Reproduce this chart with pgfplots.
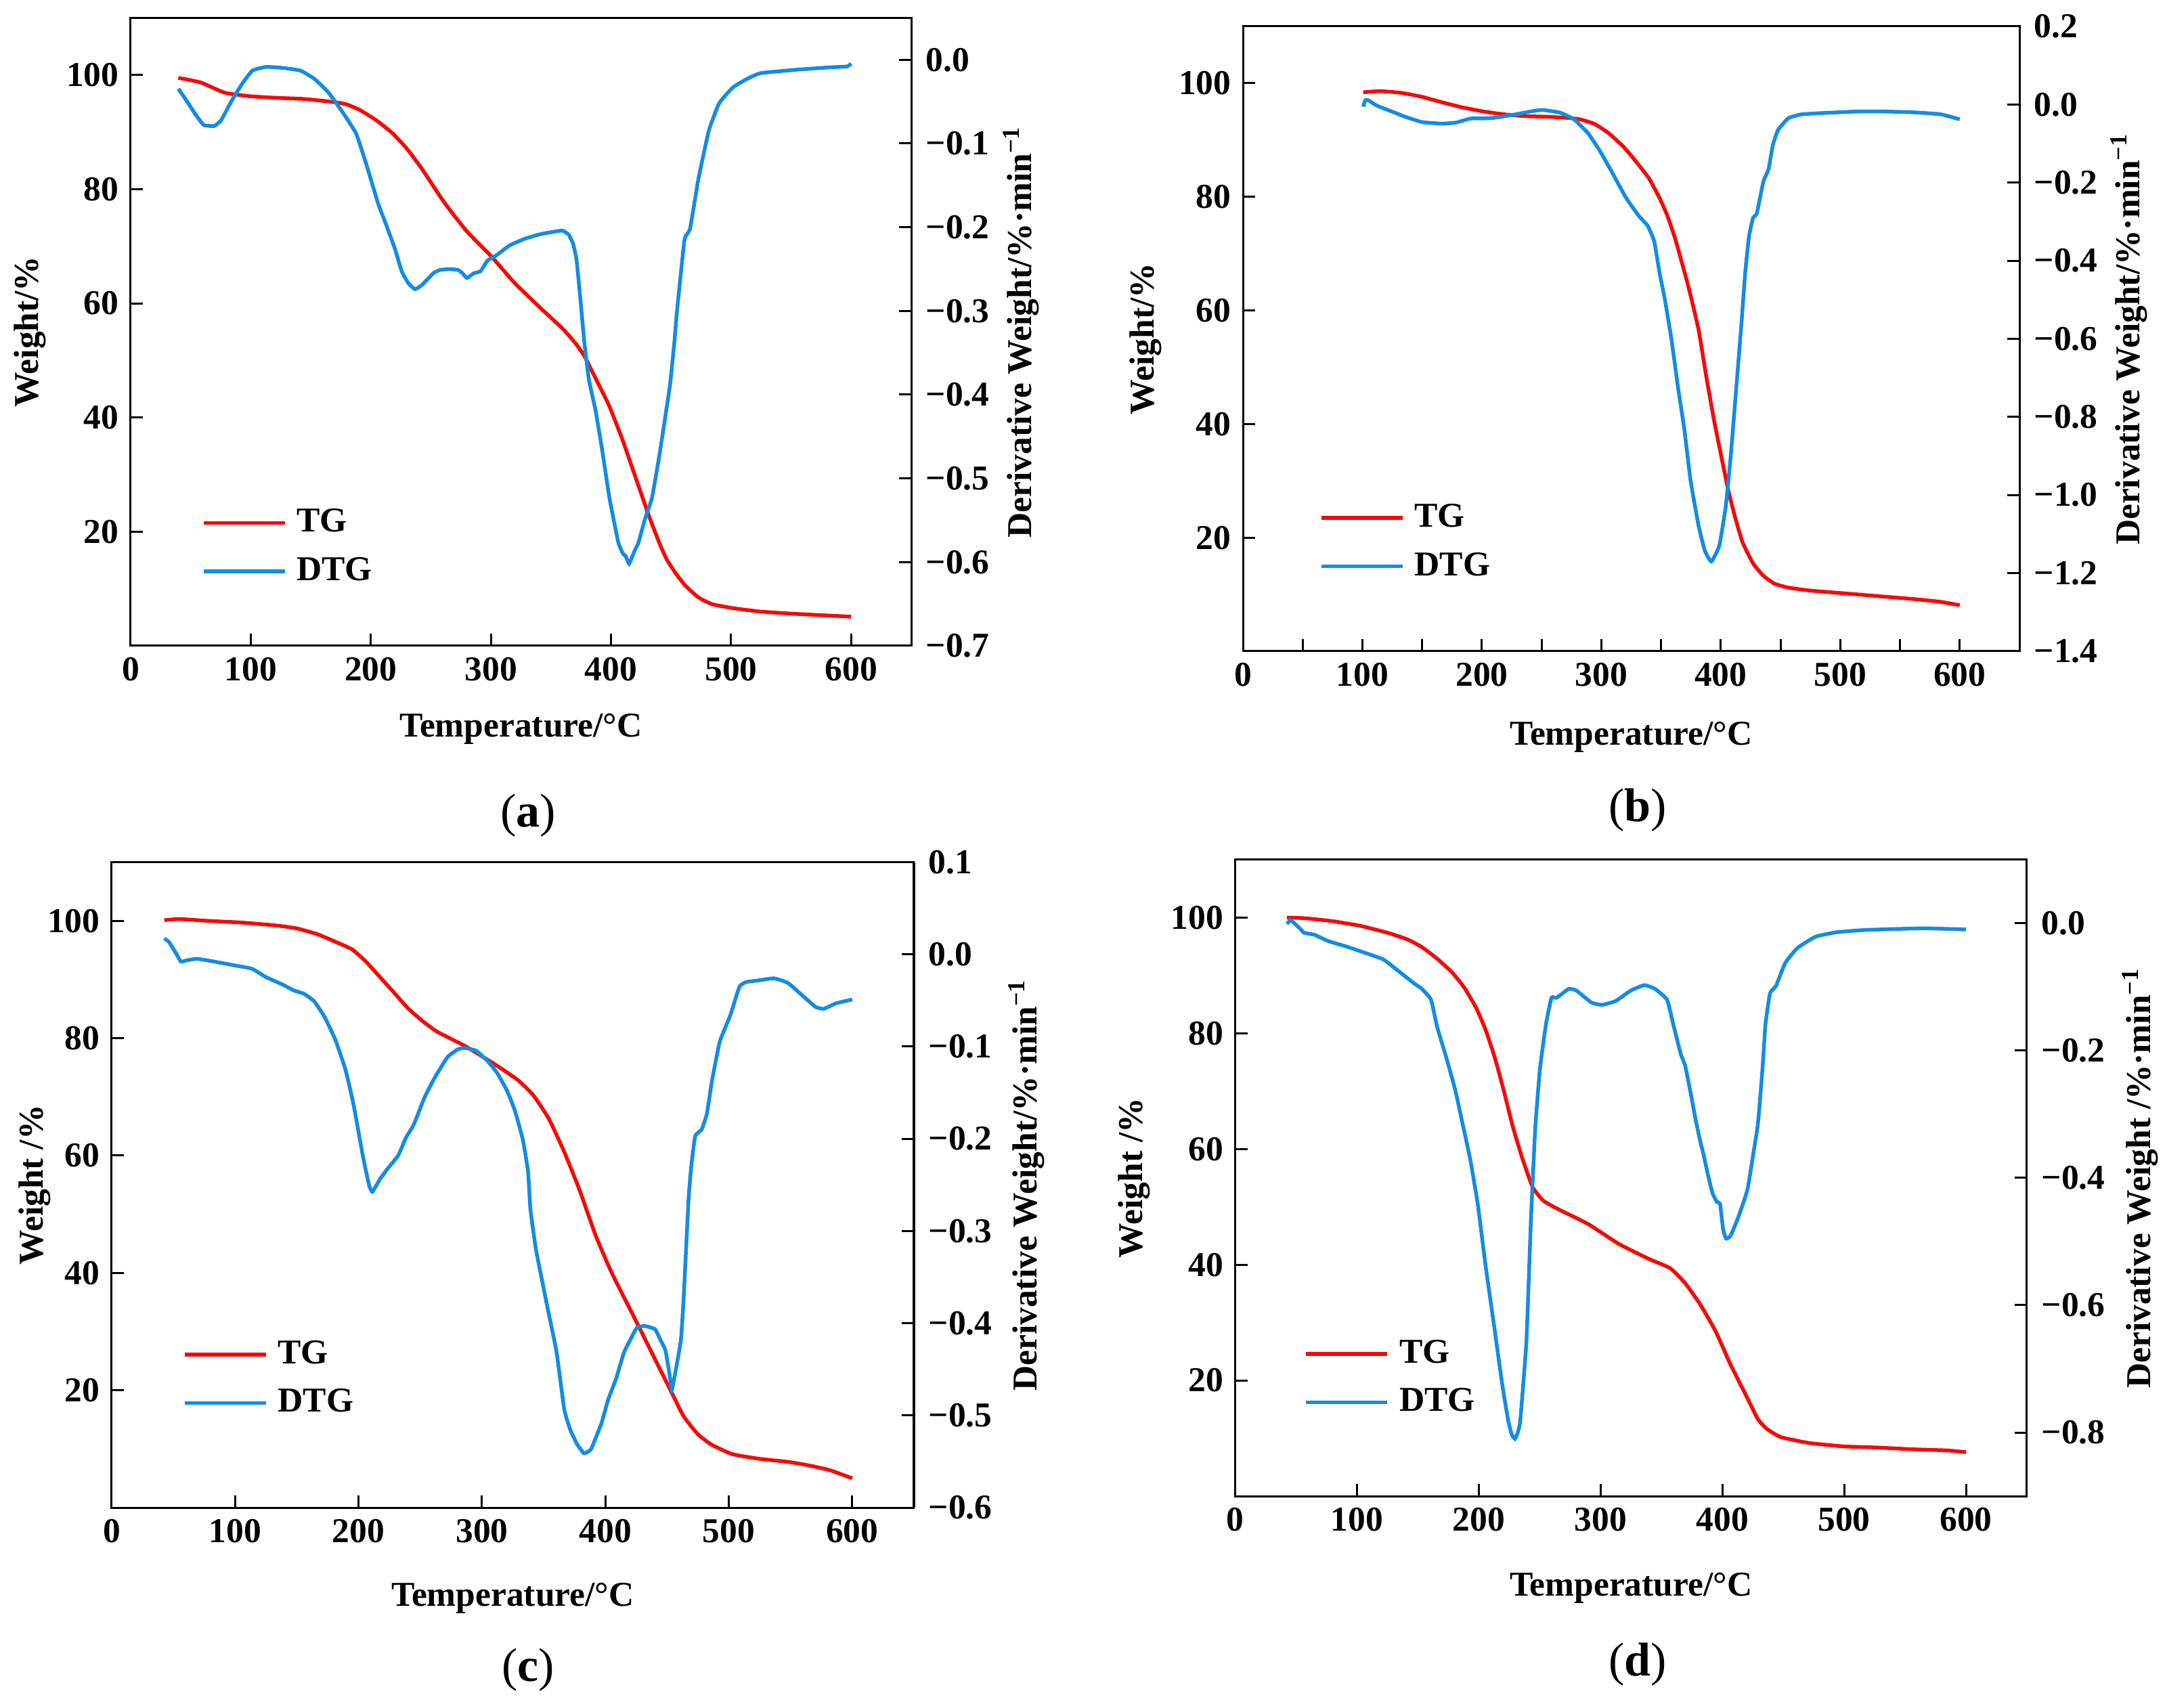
\documentclass[border=0pt]{standalone}
\usepackage{fontspec}
\setmainfont{Liberation Serif}
\usepackage{pgfplots}
\pgfplotsset{compat=1.18}
\definecolor{tgred}{RGB}{245,10,10}
\definecolor{dtgblue}{RGB}{20,140,225}
\newcommand\ff{\fontsize{10.3}{12.4}\selectfont\bfseries}
\newcommand\tb[1]{\textbf{#1}}
\pgfplotsset{
  base/.style={scale only axis, anchor=south west, xmin=0, xmax=650,
    tick align=inside, major tick length=3.6pt, minor tick length=3.6pt,
    axis line style={line width=0.6pt},
    every tick/.style={line width=0.6pt, black},
    tick label style={font=\ff}, label style={font=\ff}, clip=false},
  leftax/.style={base, xtick pos=bottom, ytick pos=left,
    xtick={0,100,200,300,400,500,600},
    xticklabels={\tb{0},\tb{100},\tb{200},\tb{300},\tb{400},\tb{500},\tb{600}},
    ymin=0, ymax=110, ytick={20,40,60,80,100},
    yticklabels={\tb{20},\tb{40},\tb{60},\tb{80},\tb{100}},
    xlabel={Temperature/°C}},
  rightax/.style={base, axis x line=none, axis y line*=right,
    yticklabel style={xshift=0.8pt},
    legend cell align=left,
    legend image code/.code={\draw[##1] (0pt,0pt) -- (24pt,0pt);},
    legend style={draw=none, fill=none, font=\ff, inner sep=0pt, outer sep=0pt,
      row sep=6pt, column sep=3pt, nodes={inner sep=0pt}}},
  tgs/.style={tgred, line width=1.1pt, smooth, tension=0.3},
  dtgs/.style={dtgblue, line width=1.1pt, smooth, tension=0.25},
}
\begin{document}
\begin{tikzpicture}
%================ (a)
\begin{axis}[leftax, at={(38.6pt,-190.8pt)}, width=230.6pt, height=185.5pt,
  ylabel={Weight/\%},
  xlabel style={at={(axis description cs:0.5,-0.1326)}, anchor=center},
  ylabel style={at={(axis description cs:-0.129,0.5)}, anchor=center}]
\addplot[tgs] coordinates {(39.7,99.5)(58.2,98.7)(78.3,96.9)(98.5,96.3)(121.5,96.0)(144.5,95.8)(167.6,95.3)(179,94.9)(190.6,93.9)(205,92.0)(218,89.8)(230,87.1)(242.4,83.6)(261.4,77.6)(280,72.6)(300.9,68.1)(320,63.5)(342.2,59.0)(360,55.5)(370.4,53.0)(378,50.7)(388,46.5)(398.6,42.0)(409.4,36.2)(418,31.0)(430.5,23.4)(439.9,18.2)(446,15.3)(452.6,13.1)(461.2,10.7)(472.7,8.5)(484.2,7.3)(501.5,6.6)(524.5,6.0)(553.3,5.6)(582.1,5.3)(600,5.1)};
\end{axis}
\begin{axis}[rightax, at={(38.6pt,-190.8pt)}, width=230.6pt, height=185.5pt,
  ymin=-0.7, ymax=0.05, ytick={-0.7,-0.6,-0.5,-0.4,-0.3,-0.2,-0.1,0},
  yticklabels={\tb{−0.7},\tb{−0.6},\tb{−0.5},\tb{−0.4},\tb{−0.3},\tb{−0.2},\tb{−0.1},\tb{0.0}},
  ylabel={Derivative Weight/\%·min\textsuperscript{−1}},
  ylabel style={at={(axis description cs:1.1405,0.5)}, anchor=center},
  legend style={at={(axis description cs:0.091,0.157)}, anchor=west}]
\addlegendimage{tgs}\addlegendentry{TG}
\addplot[dtgs] coordinates {(39.7,-0.0345)(46.6,-0.049)(55.3,-0.068)(61,-0.078)(69.7,-0.079)(75.4,-0.072)(84.1,-0.049)(92.7,-0.029)(101.3,-0.013)(112.9,-0.0085)(127.3,-0.0098)(141.6,-0.013)(153.2,-0.023)(164.7,-0.039)(176.2,-0.062)(187.7,-0.088)(196.3,-0.125)(205.9,-0.171)(213,-0.198)(220,-0.2255)(225.7,-0.2525)(231.3,-0.267)(236.9,-0.274)(242.5,-0.269)(252,-0.255)(257.6,-0.251)(265,-0.250)(272.6,-0.251)(276.3,-0.255)(280.1,-0.2606)(285.7,-0.255)(291.4,-0.2525)(297,-0.240)(304.5,-0.2336)(315.8,-0.2215)(329,-0.2134)(342.2,-0.208)(359.1,-0.204)(364.8,-0.209)(368.5,-0.220)(371.3,-0.239)(374.1,-0.2795)(377.9,-0.339)(381.6,-0.382)(387.3,-0.420)(392.9,-0.4686)(398.6,-0.5226)(406.1,-0.5766)(410,-0.590)(412.3,-0.593)(415.1,-0.602)(419.8,-0.586)(422.9,-0.5766)(428,-0.55)(434.2,-0.5226)(439.8,-0.4767)(443.6,-0.4415)(449.2,-0.3876)(453,-0.3335)(454.9,-0.301)(461.2,-0.215)(465.8,-0.202)(472.7,-0.143)(481.4,-0.085)(490,-0.052)(501.5,-0.033)(513,-0.023)(524.5,-0.016)(553.3,-0.012)(582.1,-0.009)(596.5,-0.008)(600,-0.0046)};
\addlegendentry{DTG}
\end{axis}
%================ (b)
\begin{axis}[leftax, at={(367.2pt,-192.4pt)}, width=229.4pt, height=184.6pt,
  minor xtick={50,150,250,350,450,550},
  ylabel={Weight/\%},
  xlabel style={at={(axis description cs:0.5,-0.1376)}, anchor=center},
  ylabel style={at={(axis description cs:-0.1257,0.5)}, anchor=center}]
\addplot[tgs] coordinates {(100.7,98.4)(115.1,98.6)(132.5,98.3)(149.9,97.6)(167.2,96.6)(184.6,95.7)(201.9,95.0)(219.3,94.5)(236.6,94.2)(254,94.1)(271.4,93.9)(282.9,93.6)(294.5,92.8)(306.1,91.2)(317.6,89.0)(324,87.5)(331.3,85.6)(340,83.2)(348.7,79.8)(355,76.8)(361.7,72.7)(372.6,64.4)(381.3,56.7)(387.8,48.4)(394.3,40.7)(400.9,33.8)(406.3,28.3)(411.7,23.8)(418.2,19.2)(426.9,15.5)(435.6,13.3)(444.9,11.9)(456.5,11.2)(473.9,10.7)(502.8,10.2)(531.7,9.7)(560.7,9.2)(583.8,8.7)(600,8.1)};
\end{axis}
\begin{axis}[rightax, at={(367.2pt,-192.4pt)}, width=229.4pt, height=184.6pt,
  ymin=-1.4, ymax=0.2, ytick={-1.4,-1.2,-1.0,-0.8,-0.6,-0.4,-0.2,0,0.2},
  yticklabels={\tb{−1.4},\tb{−1.2},\tb{−1.0},\tb{−0.8},\tb{−0.6},\tb{−0.4},\tb{−0.2},\tb{0.0},\tb{0.2}},
  ylabel={Derivative Weight/\%·min\textsuperscript{−1}},
  ylabel style={at={(axis description cs:1.141,0.5)}, anchor=center},
  legend style={at={(axis description cs:0.0985,0.1745)}, anchor=west}]
\addlegendimage{tgs}\addlegendentry{TG}
\addplot[dtgs] coordinates {(100.7,-0.0056)(102.4,0.011)(104.7,0.011)(112.2,-0.003)(123.8,-0.017)(135.4,-0.031)(149.9,-0.045)(167.2,-0.049)(178.8,-0.046)(190.4,-0.036)(207.7,-0.035)(225.1,-0.027)(242.4,-0.017)(251.1,-0.014)(265.6,-0.021)(277.1,-0.038)(288.7,-0.073)(298,-0.115)(307.4,-0.165)(320.5,-0.238)(331.3,-0.285)(338.9,-0.311)(344.3,-0.351)(348.7,-0.431)(353.1,-0.498)(358.5,-0.598)(364.5,-0.731)(369.4,-0.830)(374.7,-0.963)(381.3,-1.077)(386.7,-1.143)(392.1,-1.170)(398.7,-1.130)(404.1,-1.030)(408.4,-0.897)(412.8,-0.731)(417.2,-0.564)(420.4,-0.431)(423.6,-0.338)(426.9,-0.291)(430.2,-0.278)(435.6,-0.198)(440,-0.165)(443.5,-0.105)(447.8,-0.066)(456.5,-0.035)(468.1,-0.025)(491.2,-0.021)(514.4,-0.018)(537.5,-0.018)(560.7,-0.020)(583.8,-0.025)(600,-0.038)};
\addlegendentry{DTG}
\end{axis}
%================ (c)
\begin{axis}[leftax, at={(33pt,-445.4pt)}, width=237pt, height=190.7pt,
  ylabel={Weight /\%},
  xlabel style={at={(axis description cs:0.5,-0.1405)}, anchor=center},
  ylabel style={at={(axis description cs:-0.0962,0.5)}, anchor=center}]
\addplot[tgs] coordinates {(42.6,100.1)(54.9,100.3)(77.3,100)(105.3,99.7)(133.3,99.2)(150.1,98.7)(166.9,97.7)(183.7,96.2)(195,95.1)(206.2,93.0)(217.4,90.4)(228.6,87.8)(240,85.1)(252,82.9)(263.7,81.1)(286.8,78.6)(310,75.6)(328.9,72.9)(341.5,70.3)(354.1,66.3)(366.7,60.6)(379.3,54.0)(391.9,46.5)(404.5,40.3)(417.1,35.0)(427.7,30.6)(440.2,25.3)(452.8,20.0)(463.3,15.6)(475,12.5)(486.2,10.7)(503.1,9.1)(525.5,8.3)(547.9,7.8)(564.7,7.2)(581.5,6.4)(600,5.0)};
\end{axis}
\begin{axis}[rightax, at={(33pt,-445.4pt)}, width=237pt, height=190.7pt,
  ymin=-0.6, ymax=0.1, ytick={-0.6,-0.5,-0.4,-0.3,-0.2,-0.1,0,0.1},
  yticklabels={\tb{−0.6},\tb{−0.5},\tb{−0.4},\tb{−0.3},\tb{−0.2},\tb{−0.1},\tb{0.0},\tb{0.1}},
  ylabel={Derivative Weight/\%·min\textsuperscript{−1}},
  ylabel style={at={(axis description cs:1.140,0.5)}, anchor=center},
  legend style={at={(axis description cs:0.0886,0.1997)}, anchor=west}]
\addlegendimage{tgs}\addlegendentry{TG}
\addplot[dtgs] coordinates {(42.6,0.0174)(46.5,0.0132)(52.1,0.0012)(56,-0.0078)(60.5,-0.0066)(68.9,-0.0048)(82.9,-0.0078)(99.7,-0.012)(113.7,-0.0156)(124.9,-0.0246)(138.9,-0.033)(147.3,-0.039)(155.7,-0.0427)(164.1,-0.051)(172.5,-0.068)(181,-0.092)(189.4,-0.125)(196.1,-0.164)(203.4,-0.218)(208.5,-0.250)(211.2,-0.2575)(217.5,-0.2435)(223.8,-0.232)(232.2,-0.218)(238.5,-0.1986)(244.8,-0.1845)(253.2,-0.156)(261.6,-0.134)(272.1,-0.1114)(280.5,-0.103)(286.8,-0.1016)(295.2,-0.1045)(303.6,-0.1143)(312,-0.128)(320.4,-0.148)(326.8,-0.170)(333.1,-0.201)(337.3,-0.235)(339.3,-0.277)(343.6,-0.319)(347.7,-0.347)(354.1,-0.3896)(360.4,-0.431)(366.7,-0.4935)(371.4,-0.515)(377,-0.531)(382.6,-0.541)(388.2,-0.537)(393.8,-0.519)(397.2,-0.507)(402.2,-0.483)(408.7,-0.460)(415,-0.432)(421.3,-0.415)(425.5,-0.405)(431.8,-0.403)(440.2,-0.4065)(444.4,-0.4177)(448.6,-0.429)(451.8,-0.454)(453.9,-0.472)(457,-0.451)(461.2,-0.418)(463.3,-0.3755)(465.4,-0.319)(467.5,-0.263)(469.6,-0.2295)(472.8,-0.197)(478,-0.190)(482.2,-0.173)(486.4,-0.137)(492.7,-0.0946)(501.1,-0.0665)(508.7,-0.035)(514.3,-0.030)(525.5,-0.028)(536.7,-0.026)(547.9,-0.031)(559.1,-0.044)(570.3,-0.057)(577,-0.059)(587.1,-0.053)(600,-0.049)};
\addlegendentry{DTG}
\end{axis}
%================ (d)
\begin{axis}[leftax, at={(364.9pt,-442pt)}, width=233.9pt, height=188pt,
  ylabel={Weight /\%},
  xlabel style={at={(axis description cs:0.5,-0.1447)}, anchor=center},
  ylabel style={at={(axis description cs:-0.128,0.5)}, anchor=center}]
\addplot[tgs] coordinates {(42.5,100)(56.7,99.9)(79.4,99.4)(102.1,98.6)(124.8,97.4)(141.8,96.2)(153.3,94.9)(165.8,92.9)(178.2,90.5)(188.1,87.9)(198.1,84.3)(205.6,80.6)(213,75.9)(220.4,70.2)(227.9,63.9)(235.3,58.7)(244,53.5)(252.8,51.1)(265.2,49.6)(290,47.0)(314.9,43.6)(339.7,41.0)(357.1,39.4)(369.5,36.8)(381.9,33.1)(394.4,28.5)(406.8,22.7)(419.2,17.5)(429.2,13.3)(436.7,11.6)(448,10.2)(470.7,9.2)(499,8.6)(527.4,8.4)(555.8,8.1)(584.1,7.9)(600,7.6)};
\end{axis}
\begin{axis}[rightax, at={(364.9pt,-442pt)}, width=233.9pt, height=188pt,
  ymin=-0.9, ymax=0.1, ytick={-0.8,-0.6,-0.4,-0.2,0},
  yticklabels={\tb{−0.8},\tb{−0.6},\tb{−0.4},\tb{−0.2},\tb{0.0}},
  ylabel={Derivative Weight /\%·min\textsuperscript{−1}},
  ylabel style={at={(axis description cs:1.143,0.5)}, anchor=center},
  legend style={at={(axis description cs:0.0872,0.1853)}, anchor=west}]
\addlegendimage{tgs}\addlegendentry{TG}
\addplot[dtgs] coordinates {(42.5,-0.0009)(45.4,0.005)(48.2,0.001)(53.9,-0.0096)(56.7,-0.0148)(65.2,-0.018)(76.6,-0.028)(90.7,-0.036)(107.7,-0.047)(121.9,-0.057)(136.1,-0.078)(147.4,-0.095)(153.3,-0.103)(160.8,-0.120)(165.8,-0.1625)(173.2,-0.210)(180.7,-0.262)(185.6,-0.305)(193.1,-0.372)(199.3,-0.443)(205.6,-0.538)(213,-0.638)(219.2,-0.7236)(224.1,-0.7806)(227,-0.803)(229.7,-0.810)(232,-0.800)(234.1,-0.7806)(239.1,-0.657)(242.8,-0.467)(246.3,-0.324)(250.2,-0.229)(255.2,-0.158)(259.7,-0.117)(263.9,-0.117)(273.8,-0.103)(280.1,-0.1055)(292.5,-0.1245)(301.2,-0.128)(312.4,-0.122)(324.8,-0.1055)(336,-0.097)(344.7,-0.103)(354.6,-0.120)(359.6,-0.158)(365.8,-0.205)(369.5,-0.224)(374.5,-0.272)(378.2,-0.310)(381.9,-0.343)(384.4,-0.362)(388.2,-0.3955)(391.9,-0.424)(395.6,-0.438)(398.1,-0.4406)(400.6,-0.481)(403.1,-0.4954)(406.8,-0.4906)(413,-0.462)(420.5,-0.419)(425.4,-0.362)(429.2,-0.3146)(432.9,-0.229)(435.4,-0.158)(439.1,-0.110)(444.1,-0.098)(451.5,-0.0626)(461.5,-0.0389)(476.4,-0.021)(493.4,-0.014)(516.1,-0.0105)(544.4,-0.0087)(567.1,-0.0078)(600,-0.0096)};
\addlegendentry{DTG}
\end{axis}
%================ captions
\node[font=\fontsize{14}{16}\selectfont] at (156pt,-241pt) {(\textbf{a})};
\node[font=\fontsize{14}{16}\selectfont] at (483.8pt,-239.4pt) {(\textbf{b})};
\node[font=\fontsize{14}{16}\selectfont] at (156pt,-493.4pt) {(\textbf{c})};
\node[font=\fontsize{14}{16}\selectfont] at (483.8pt,-491.8pt) {(\textbf{d})};
\pgfresetboundingbox
\path[use as bounding box] (0pt,0pt) rectangle (639.6pt,-504.6pt);
\end{tikzpicture}
\end{document}
